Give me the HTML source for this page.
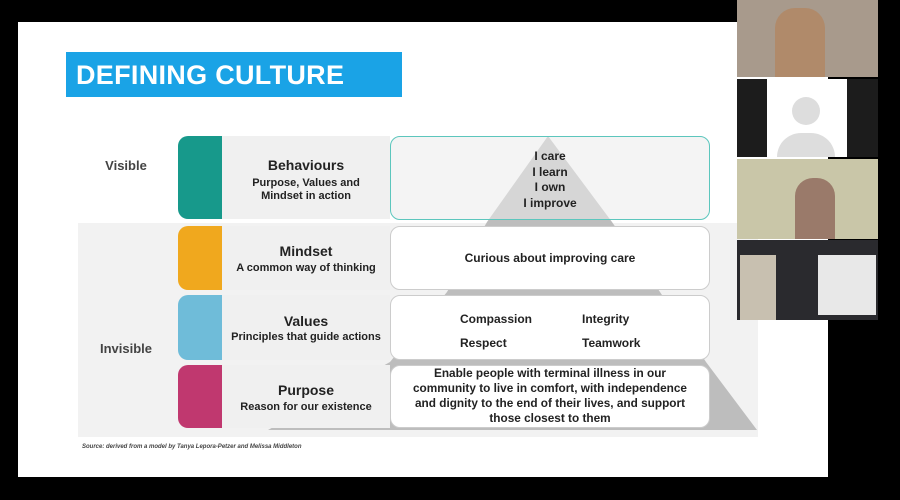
<!DOCTYPE html><html><head><style>
body{margin:0;width:900px;height:500px;background:#000;position:relative;overflow:hidden;font-family:"Liberation Sans",Arial,sans-serif;color:#222}
div{position:absolute;box-sizing:border-box}
.c{text-align:center;font-weight:bold}
.blk{left:178px;width:44px;border-radius:10px 0 0 10px}
.lab{left:222px;width:168px;background:#f0f0f0}
.box{left:390px;width:320px;background:#fff;border:1.5px solid #ccc;border-radius:10px}
</style></head><body>
<div style="left:18px;top:22px;width:810px;height:455px;background:#fff"></div>
<div style="left:66px;top:52px;width:336px;height:45px;background:#1aa3e6;color:#fff;font-weight:bold;font-size:27px;line-height:47px;padding-left:10px;letter-spacing:0.3px">DEFINING CULTURE</div>
<div style="left:78px;top:223px;width:680px;height:214px;background:#f2f2f2"></div>
<svg style="position:absolute;left:0;top:0" width="900" height="500"><polygon points="548,136 612,222 660,292 706,362 757,430 268,430 390,362 447,292 487,222" fill="#bdbdbd"/></svg>
<div class="c" style="left:86px;top:158px;width:80px;font-size:13px;color:#444">Visible</div>
<div class="c" style="left:86px;top:341px;width:80px;font-size:13px;color:#444">Invisible</div>

<div class="blk" style="top:136px;height:83px;background:#17998b"></div>
<div class="lab" style="top:136px;height:83px"></div>
<div class="c" style="left:222px;top:157px;width:168px;font-size:14px">Behaviours</div>
<div class="c" style="left:222px;top:177px;width:168px;font-size:11px;line-height:13px">Purpose, Values and<br>Mindset in action</div>
<div style="left:390px;top:136px;width:320px;height:84px;border:1.5px solid #5cc6bd;border-radius:10px;background:rgba(235,235,235,.55)"></div>
<div class="c" style="left:490px;top:149px;width:120px;font-size:12px;line-height:15.5px">I care<br>I learn<br>I own<br>I improve</div>

<div class="blk" style="top:226px;height:64px;background:#f0a81e"></div>
<div class="lab" style="top:226px;height:64px"></div>
<div class="c" style="left:222px;top:243px;width:168px;font-size:14px">Mindset</div>
<div class="c" style="left:222px;top:262px;width:168px;font-size:11px">A common way of thinking</div>
<div class="box" style="top:226px;height:64px"></div>
<div class="c" style="left:390px;top:251px;width:320px;font-size:12px">Curious about improving care</div>

<div class="blk" style="top:295px;height:65px;background:#6fbcd9"></div>
<div class="lab" style="top:295px;height:65px"></div>
<div class="c" style="left:222px;top:313px;width:168px;font-size:14px">Values</div>
<div class="c" style="left:222px;top:331px;width:168px;font-size:11px">Principles that guide actions</div>
<div class="box" style="top:295px;height:65px"></div>
<div class="c" style="left:460px;top:312px;width:90px;font-size:12px;text-align:left">Compassion</div>
<div class="c" style="left:582px;top:312px;width:90px;font-size:12px;text-align:left">Integrity</div>
<div class="c" style="left:460px;top:336px;width:90px;font-size:12px;text-align:left">Respect</div>
<div class="c" style="left:582px;top:336px;width:90px;font-size:12px;text-align:left">Teamwork</div>

<div class="blk" style="top:365px;height:63px;background:#c0386f"></div>
<div class="lab" style="top:365px;height:63px"></div>
<div class="c" style="left:222px;top:382px;width:168px;font-size:14px">Purpose</div>
<div class="c" style="left:222px;top:401px;width:168px;font-size:11px">Reason for our existence</div>
<div class="box" style="top:365px;height:63px"></div>
<div class="c" style="left:390px;top:366px;width:320px;font-size:11.8px;line-height:15px">Enable people with terminal illness in our<br>community to live in comfort, with independence<br>and dignity to the end of their lives, and support<br>those closest to them</div>

<div style="left:82px;top:444px;font-size:6px;font-style:italic;font-weight:bold;color:#444">Source: derived from a model by Tanya Lepora-Petzer and Melissa Middleton</div>

<div style="left:737px;top:0;width:141px;height:77px;background:#a89a8c"></div>
<div style="left:775px;top:8px;width:50px;height:69px;background:#b08a6a;border-radius:20px 20px 0 0"></div>
<div style="left:737px;top:79px;width:141px;height:78px;background:#1c1c1c"></div>
<div style="left:767px;top:79px;width:80px;height:78px;background:#fff"></div>
<div style="left:792px;top:97px;width:28px;height:28px;border-radius:50%;background:#ddd"></div>
<div style="left:777px;top:133px;width:58px;height:24px;border-radius:29px 29px 0 0;background:#ddd"></div>
<div style="left:737px;top:159px;width:141px;height:80px;background:#c9c6a8"></div>
<div style="left:795px;top:178px;width:40px;height:61px;background:#9a7a6a;border-radius:18px 18px 0 0"></div>
<div style="left:737px;top:240px;width:141px;height:80px;background:#2a2a2e"></div>
<div style="left:740px;top:255px;width:36px;height:65px;background:#c8c0b0"></div>
<div style="left:818px;top:255px;width:58px;height:60px;background:#e8e8e8"></div>
</body></html>
